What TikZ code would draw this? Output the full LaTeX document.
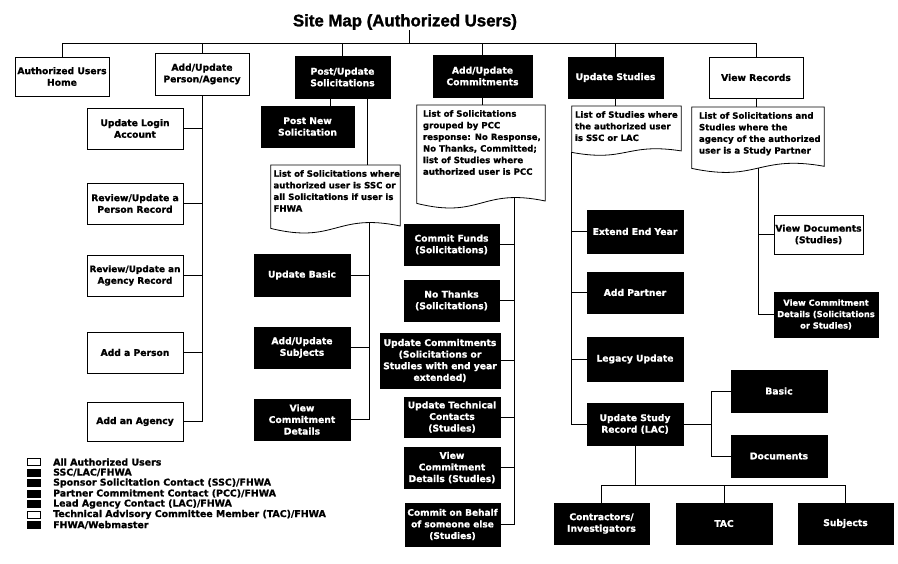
\documentclass[tikz,border=0pt]{standalone}
\usepackage{fontspec}
\setmainfont{DejaVu Sans}[FakeBold=1]
\newfontfamily\ttlfont{Liberation Sans}[FakeBold=1.5]
\usetikzlibrary{calc}
\tikzset{
  conn/.style={line width=0.8pt, draw=black},
  boxfont/.style={font=\bfseries\fontsize{9.2}{11.6}\selectfont},
  wbox/.style={draw=black, line width=0.8pt, fill=white, align=center, inner sep=1pt, boxfont},
  bbox/.style={draw=black, line width=0.8pt, fill=black, text=white, align=center, inner sep=1pt, boxfont},
  docframe/.style={inner sep=0pt, anchor=north},
  doctext/.style={anchor=north west, inner sep=0pt, align=left, font=\bfseries\fontsize{8.6}{11.6}\selectfont},
  legw/.style={draw=black, line width=0.6pt, fill=white, minimum width=13pt, minimum height=7pt, inner sep=0pt},
  legb/.style={draw=black, fill=black, minimum width=13pt, minimum height=7pt, inner sep=0pt},
  legtext/.style={anchor=west, inner sep=0pt, font=\bfseries\fontsize{9.4}{10}\selectfont},
}
\newcommand\docoutline[2]{%
  \draw[conn] let \p1=(#1.south west), \p2=(#1.south east), \p3=(#1.north west) in
   (\p3) -- (\x2,\y3) -- (\x2,{\y2+0.3*#2pt})
   .. controls ({0.5*\x1+0.5*\x2},{\y2+2*#2pt}) and ({0.5*\x1+0.5*\x2},{\y1-2*#2pt}) .. (\p1) -- cycle;}
\begin{document}
\begin{tikzpicture}[x=1pt,y=-1pt]
\useasboundingbox (0,0) rectangle (898,563);

% title
\node[font=\ttlfont\bfseries\fontsize{16.8}{20}\selectfont, inner sep=0pt] (title) at (405,22) {Site Map (Authorized Users)};
\coordinate (bus) at (409,43);

% top row
\node[wbox, minimum width=94pt, minimum height=39pt] (auh) at (62,76.5) {Authorized Users\\Home};
\node[wbox, minimum width=94pt, minimum height=42pt] (apa) at (202,74) {Add/Update\\Person/Agency};
\node[bbox, minimum width=95pt, minimum height=42pt] (pus) at (342.5,77) {Post/Update\\Solicitations};
\node[bbox, minimum width=99pt, minimum height=42pt] (auc) at (482.5,76) {Add/Update\\Commitments};
\node[bbox, minimum width=95pt, minimum height=41pt] (ust) at (615.5,77.5) {Update Studies};
\node[wbox, minimum width=94pt, minimum height=41pt] (vrc) at (756,77.5) {View Records};

\draw[conn] (title.south -| bus) -- (bus);
\draw[conn] (bus) -| (auh.north);
\draw[conn] (bus) -| (apa.north);
\draw[conn] (bus) -| (pus.north);
\draw[conn] (bus) -| (auc.north);
\draw[conn] (bus) -| (ust.north);
\draw[conn] (bus) -| (vrc.north);

% Add/Update Person/Agency column
\node[wbox, minimum width=96pt, minimum height=41pt] (ula) at (135,128.5) {Update Login\\Account};
\node[wbox, minimum width=96pt, minimum height=41pt] (rup) at (135,203.5) {Review/Update a\\Person Record};
\node[wbox, minimum width=96pt, minimum height=41pt, font=\bfseries\fontsize{8.9}{11.6}\selectfont] (rua) at (135,275.5) {Review/Update an\\Agency Record};
\node[wbox, minimum width=96pt, minimum height=41pt] (adp) at (135,352.5) {Add a Person};
\node[wbox, minimum width=96pt, minimum height=39pt] (ada) at (135,421.5) {Add an Agency};
\foreach \n in {ula,rup,rua,adp,ada} \draw[conn] (apa.south) |- (\n.east);

% Post/Update Solicitations column
\node[bbox, minimum width=93pt, minimum height=41pt] (pns) at (307.5,126.5) {Post New\\Solicitation};
\coordinate (px1) at (330,0);
\coordinate (px2) at (367,0);
\draw[conn] (pus.south -| px1) -- (pns.north -| px1);
\node[docframe, minimum width=129pt, minimum height=63pt] (doc1) at (335.5,165) {};
\docoutline{doc1}{8}
\node[doctext] (doc1t) at ($(doc1.north west)+(2.5pt,-5pt)$) {List of Solicitations where\\authorized user is SSC or\\all Solicitations if user is\\FHWA};
\draw[conn] (pus.south -| px2) -- (doc1.north -| px2);
\node[bbox, minimum width=96pt, minimum height=42pt] (ubs) at (302,275) {Update Basic};
\node[bbox, minimum width=96pt, minimum height=41pt] (aus) at (302,347.5) {Add/Update\\Subjects};
\node[bbox, minimum width=96pt, minimum height=41pt] (vcd1) at (302,419.5) {View\\Commitment\\Details};
\coordinate (d1b) at (369,222.2);
\foreach \n in {ubs,aus,vcd1} \draw[conn] (d1b) |- (\n.east);

% Add/Update Commitments column
\node[docframe, minimum width=128pt, minimum height=98pt] (doc2) at (481,105) {};
\docoutline{doc2}{8}
\node[doctext] (doc2t) at ($(doc2.north west)+(6pt,-5pt)$) {List of Solicitations\\grouped by PCC\\response: No Response,\\No Thanks, Committed;\\list of Studies where\\authorized user is PCC};
\draw[conn] (auc.south) -- (auc.south |- doc2.north);
\node[bbox, minimum width=95pt, minimum height=41pt] (cfs) at (451.5,244.5) {Commit Funds\\(Solicitations)};
\node[bbox, minimum width=95pt, minimum height=41pt] (nts) at (451.5,300.5) {No Thanks\\(Solicitations)};
\node[bbox, minimum width=120pt, minimum height=55pt] (ucm) at (440,360.5) {Update Commitments\\(Solicitations or\\Studies with end year\\extended)};
\node[bbox, minimum width=96pt, minimum height=40pt] (utc) at (452,417) {Update Technical\\Contacts\\(Studies)};
\node[bbox, minimum width=96pt, minimum height=41pt] (vcd2) at (452,467.5) {View\\Commitment\\Details (Studies)};
\node[bbox, minimum width=95pt, minimum height=43pt, font=\bfseries\fontsize{9}{11.6}\selectfont] (cob) at (452.5,524.5) {Commit on Behalf\\of someone else\\(Studies)};
\coordinate (d2b) at (514,197.2);
\foreach \n in {cfs,nts,ucm,utc,vcd2,cob} \draw[conn] (d2b) |- (\n.east);

% Update Studies column
\node[docframe, minimum width=109pt, minimum height=46pt] (doc3) at (626.5,106) {};
\docoutline{doc3}{5}
\node[doctext] (doc3t) at ($(doc3.north west)+(3pt,-5pt)$) {List of Studies where\\the authorized user\\is SSC or LAC};
\draw[conn] (ust.south) -- (ust.south |- doc3.north);
\node[bbox, minimum width=96pt, minimum height=43pt] (eey) at (635,231.5) {Extend End Year};
\node[bbox, minimum width=96pt, minimum height=41pt] (adpt) at (635,292.5) {Add Partner};
\node[bbox, minimum width=96pt, minimum height=44pt] (lgu) at (635,359) {Legacy Update};
\node[bbox, minimum width=96pt, minimum height=42pt] (usr) at (635,424) {Update Study\\Record (LAC)};
\foreach \n in {eey,adpt,lgu,usr} \draw[conn] (doc3.south west) |- (\n.west);

% Update Study Record children
\node[bbox, minimum width=96pt, minimum height=42pt] (bas) at (779,391) {Basic};
\node[bbox, minimum width=96pt, minimum height=42pt] (docs) at (779,456) {Documents};
\coordinate (usrj) at (711,424);
\draw[conn] (usr.east) -- (usrj) |- (bas.west);
\draw[conn] (usrj) |- (docs.west);
\node[bbox, minimum width=95pt, minimum height=41pt] (cin) at (601.5,523.5) {Contractors/\\Investigators};
\node[bbox, minimum width=96pt, minimum height=41pt] (tac) at (724,523.5) {TAC};
\node[bbox, minimum width=95pt, minimum height=41pt] (sbj) at (845.5,523.5) {Subjects};
\coordinate (bb) at (635,485);
\draw[conn] (usr.south) -- (bb);
\draw[conn] (bb) -| (cin.north);
\draw[conn] (bb) -| (tac.north);
\draw[conn] (bb) -| (sbj.north);

% View Records column
\node[docframe, minimum width=132pt, minimum height=61pt] (doc4) at (758,107) {};
\docoutline{doc4}{7}
\node[doctext] (doc4t) at ($(doc4.north west)+(7pt,-5pt)$) {List of Solicitations and\\Studies where the\\agency of the authorized\\user is a Study Partner};
\draw[conn] (vrc.south) -- (vrc.south |- doc4.north);
\node[wbox, minimum width=89pt, minimum height=39pt] (vdc) at (818.5,234.5) {View Documents\\(Studies)};
\node[bbox, minimum width=104pt, minimum height=45pt, font=\bfseries\fontsize{8.3}{11.4}\selectfont] (vcd3) at (826,314.5) {View Commitment\\Details (Solicitations\\or Studies)};
\coordinate (d4b) at (758,167.7);
\draw[conn] (d4b) |- (vdc.west);
\draw[conn] (d4b) |- (vcd3.west);

% legend
\node[legw] (lg1) at (33.5,462) {};
\node[legb] (lg2) at (33.5,472.5) {};
\node[legb] (lg3) at (33.5,483) {};
\node[legb] (lg4) at (33.5,493.5) {};
\node[legb] (lg5) at (33.5,504) {};
\node[legw] (lg6) at (33.5,514.5) {};
\node[legb] (lg7) at (33.5,525) {};
\node[legtext] (lt1) at (53,462) {All Authorized Users};
\node[legtext] (lt2) at (53,472.5) {SSC/LAC/FHWA};
\node[legtext] (lt3) at (53,483) {Sponsor Solicitation Contact (SSC)/FHWA};
\node[legtext] (lt4) at (53,493.5) {Partner Commitment Contact (PCC)/FHWA};
\node[legtext] (lt5) at (53,504) {Lead Agency Contact (LAC)/FHWA};
\node[legtext] (lt6) at (53,514.5) {Technical Advisory Committee Member (TAC)/FHWA};
\node[legtext] (lt7) at (53,525) {FHWA/Webmaster};
\end{tikzpicture}
\end{document}
